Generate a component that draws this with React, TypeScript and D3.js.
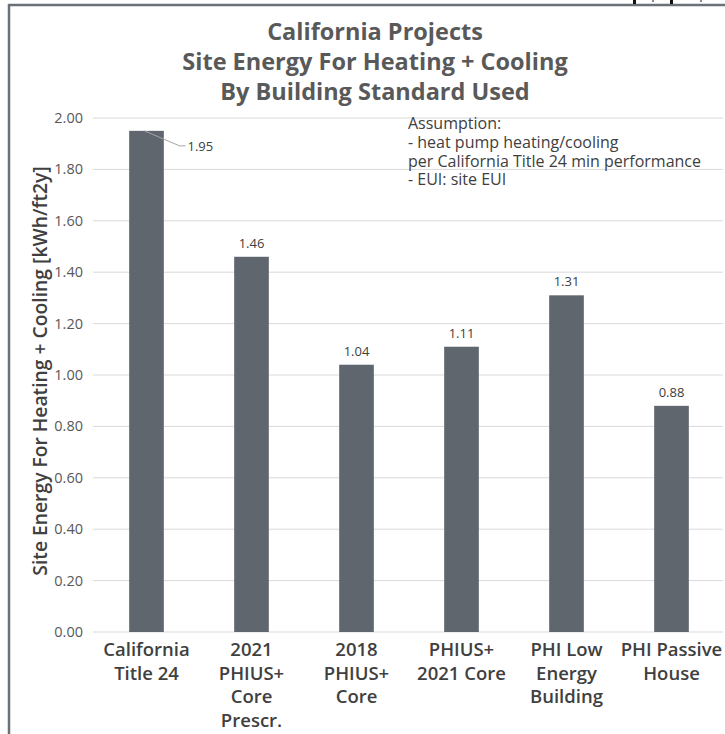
import React from "react";
import * as d3 from "d3";

const categories: string[][] = [
  ["California", "Title 24"],
  ["2021", "PHIUS+", "Core", "Prescr."],
  ["2018", "PHIUS+", "Core"],
  ["PHIUS+", "2021 Core"],
  ["PHI Low", "Energy", "Building"],
  ["PHI Passive", "House"],
];
const values: number[] = [1.95, 1.46, 1.04, 1.11, 1.31, 0.88];
const yTicks: number[] = [0, 0.2, 0.4, 0.6, 0.8, 1.0, 1.2, 1.4, 1.6, 1.8, 2.0];
const titleLines: string[] = [
  "California Projects",
  "Site Energy For Heating + Cooling",
  "By Building Standard Used",
];
const noteLines: string[] = [
  "Assumption:",
  "- heat pump heating/cooling",
  "per California Title 24 min performance",
  "- EUI: site EUI",
];
const yAxisTitle = "Site Energy For Heating + Cooling [kWh/ft2y]";

const W = 725;
const H = 734;
const FONT = "'Open Sans', 'Noto Sans', sans-serif";
const BAR = "#5f666d";
const TEXT = "#404040";

export default function App() {
  const x = d3
    .scaleBand<number>()
    .domain(d3.range(values.length))
    .range([94, 724])
    .paddingInner(0.67)
    .paddingOuter(0.335);
  const y = d3.scaleLinear().domain([0, 2]).range([632, 118]);

  return (
    <svg
      width={W}
      height={H}
      style={{ position: "absolute", left: 0, top: 0, background: "#fff" }}
      fontFamily={FONT}
    >
      <rect x={0} y={0} width={W} height={H} fill="#fff" />
      {/* frame */}
      <line x1={8.5} y1={5} x2={W} y2={5} stroke="#6b7178" strokeWidth={2.5} />
      <line x1={9} y1={4} x2={9} y2={H} stroke="#6b7178" strokeWidth={2.5} />
      <rect x={633} y={0} width={3} height={4} fill="#111" />
      <rect x={670} y={0} width={3} height={4} fill="#111" />
      <rect x={652} y={0} width={2} height={2} fill="#888" />
      <rect x={700} y={0} width={2} height={2} fill="#888" />

      {/* title */}
      {titleLines.map((t, i) => (
        <text
          key={i}
          x={375}
          y={40 + i * 30}
          textAnchor="middle"
          fontSize={23.5}
          fontWeight={700}
          fill="#595959"
        >
          {t}
        </text>
      ))}

      {/* gridlines + tick labels */}
      {yTicks.map((t) => (
        <g key={t}>
          <line x1={93} x2={723} y1={y(t)} y2={y(t)} stroke="#d9d9d9" strokeWidth={1} />
          <text
            x={83}
            y={y(t)}
            dy="0.35em"
            textAnchor="end"
            fontSize={14.5}
            fill="#595959"
          >
            {t.toFixed(2)}
          </text>
        </g>
      ))}

      {/* bars */}
      {values.map((v, i) => (
        <rect
          key={i}
          x={x(i)!}
          y={y(v)}
          width={x.bandwidth()}
          height={y(0) - y(v)}
          fill={BAR}
        />
      ))}

      {/* value labels */}
      {values.map((v, i) => {
        const cx = x(i)! + x.bandwidth() / 2;
        if (i === 0) {
          return (
            <g key={i}>
              <polyline
                points={`${cx - 2},${y(v)} ${cx + 33},${y(v) + 15} ${cx + 39},${y(v) + 15}`}
                fill="none"
                stroke="#a6a6a6"
                strokeWidth={1}
              />
              <text x={cx + 41} y={y(v) + 16} dy="0.35em" fontSize={13} fill={TEXT}>
                {v.toFixed(2)}
              </text>
            </g>
          );
        }
        return (
          <text
            key={i}
            x={cx}
            y={y(v) - 9}
            textAnchor="middle"
            fontSize={13}
            fill={TEXT}
          >
            {v.toFixed(2)}
          </text>
        );
      })}

      {/* category labels */}
      {categories.map((lines, i) => {
        const cx = x(i)! + x.bandwidth() / 2;
        return (
          <text key={i} textAnchor="middle" fontSize={18.5} fontWeight={600} fill={TEXT}>
            {lines.map((l, j) => (
              <tspan key={j} x={cx} y={656 + j * 23.7}>
                {l}
              </tspan>
            ))}
          </text>
        );
      })}

      {/* y-axis title */}
      <text
        transform={`translate(47,${y(1) - 4}) rotate(-90)`}
        textAnchor="middle"
        fontSize={19.3}
        fontWeight={600}
        fill={TEXT}
      >
        {yAxisTitle}
      </text>

      {/* note */}
      <text fontSize={16} fill={TEXT}>
        {noteLines.map((t, i) => (
          <tspan key={i} x={408} y={129 + i * 18.8}>
            {t}
          </tspan>
        ))}
      </text>
    </svg>
  );
}
